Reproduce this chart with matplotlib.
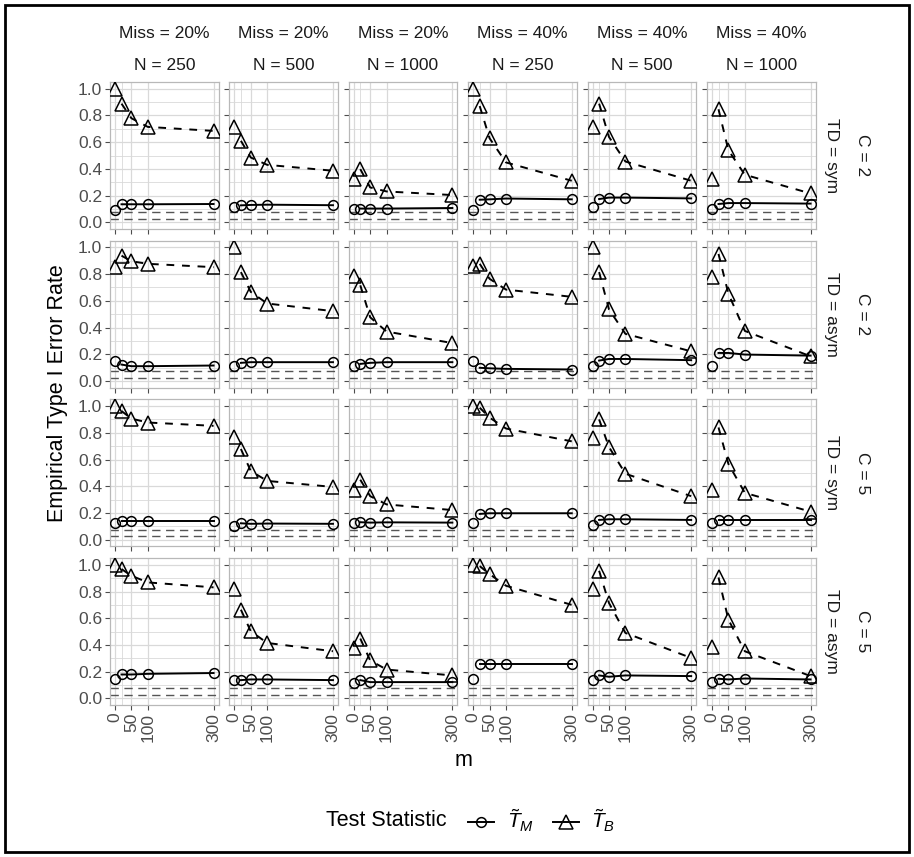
# -----------------------------
#   IMPORTS
# -----------------------------
import matplotlib
matplotlib.use("Agg")
import matplotlib.pyplot as plt
from matplotlib.lines import Line2D
from matplotlib.patches import Rectangle

plt.rcParams["font.family"] = ["Liberation Sans", "DejaVu Sans"]
plt.rcParams["mathtext.fontset"] = "custom"
plt.rcParams["mathtext.rm"] = "Liberation Sans"
plt.rcParams["mathtext.it"] = "Liberation Sans:italic"

# -----------------------------
#   DATA
# -----------------------------
miss_labels = ["20%", "20%", "20%", "40%", "40%", "40%"]
n_labels = ["250", "500", "1000", "250", "500", "1000"]
c_labels = ["2", "2", "5", "5"]
td_labels = ["sym", "asym", "sym", "asym"]
m_values = [0, 20, 50, 100, 300]
m_ticks = [0, 50, 100, 300]
y_ticks = [0.0, 0.2, 0.4, 0.6, 0.8, 1.0]
bradley_bounds = [0.025, 0.075]

# rows = (C, TD), columns = (Miss, N), values over m
tm_rates = [
    [[0.095, 0.135, 0.135, 0.135, 0.137],
     [0.112, 0.127, 0.130, 0.132, 0.128],
     [0.103, 0.103, 0.103, 0.103, 0.107],
     [0.095, 0.169, 0.172, 0.178, 0.172],
     [0.112, 0.174, 0.185, 0.185, 0.179],
     [0.100, 0.137, 0.144, 0.144, 0.140]],
    [[0.153, 0.123, 0.111, 0.111, 0.116],
     [0.111, 0.136, 0.141, 0.141, 0.141],
     [0.116, 0.128, 0.136, 0.141, 0.141],
     [0.153, 0.099, 0.095, 0.091, 0.086],
     [0.116, 0.153, 0.165, 0.165, 0.156],
     [0.116, 0.210, 0.210, 0.198, 0.190]],
    [[0.128, 0.143, 0.143, 0.143, 0.143],
     [0.104, 0.123, 0.119, 0.121, 0.119],
     [0.123, 0.131, 0.128, 0.130, 0.128],
     [0.128, 0.193, 0.198, 0.198, 0.198],
     [0.111, 0.148, 0.153, 0.153, 0.148],
     [0.123, 0.148, 0.148, 0.148, 0.148]],
    [[0.142, 0.179, 0.179, 0.184, 0.190],
     [0.137, 0.137, 0.142, 0.142, 0.137],
     [0.117, 0.137, 0.122, 0.122, 0.122],
     [0.142, 0.261, 0.261, 0.261, 0.261],
     [0.137, 0.172, 0.162, 0.172, 0.167],
     [0.122, 0.147, 0.142, 0.149, 0.142]],
]

tb_rates = [
    [[1.000, 0.888, 0.779, 0.714, 0.684],
     [0.714, 0.610, 0.485, 0.430, 0.386],
     [0.323, 0.398, 0.261, 0.231, 0.204],
     [1.000, 0.870, 0.629, 0.448, 0.311],
     [0.714, 0.888, 0.639, 0.455, 0.311],
     [0.323, 0.846, 0.540, 0.356, 0.216]],
    [[0.852, 0.938, 0.896, 0.877, 0.852],
     [1.000, 0.815, 0.667, 0.580, 0.523],
     [0.783, 0.716, 0.477, 0.370, 0.284],
     [0.857, 0.877, 0.765, 0.684, 0.630],
     [1.000, 0.815, 0.536, 0.353, 0.222],
     [0.778, 0.951, 0.654, 0.375, 0.185]],
    [[1.000, 0.963, 0.906, 0.877, 0.852],
     [0.770, 0.679, 0.514, 0.440, 0.395],
     [0.370, 0.449, 0.326, 0.264, 0.222],
     [1.000, 0.988, 0.914, 0.832, 0.736],
     [0.760, 0.900, 0.694, 0.494, 0.326],
     [0.370, 0.840, 0.568, 0.351, 0.210]],
    [[1.000, 0.968, 0.918, 0.868, 0.831],
     [0.818, 0.664, 0.502, 0.415, 0.353],
     [0.378, 0.448, 0.284, 0.216, 0.172],
     [1.000, 0.990, 0.930, 0.843, 0.700],
     [0.818, 0.955, 0.714, 0.490, 0.303],
     [0.383, 0.905, 0.590, 0.353, 0.167]],
]

# -----------------------------
#   LAYOUT (pixels)
# -----------------------------
W, H = 914, 857
left0, col_step, panel_w = 110, 119.4, 108.5
top0, row_step, panel_h = 82, 158.7, 147
grid_col = "#d9d9d9"
frame_col = "#b8b8b8"
tick_col = "#4d4d4d"


def px_rect(left, top, w, h):
    # Convert a pixel box (top-left origin) into figure fractions
    return [left / W, (H - top - h) / H, w / W, h / H]


fig = plt.figure(figsize=(W / 100, H / 100), dpi=100)

for r in range(len(c_labels)):
    for c in range(len(n_labels)):
        ax = fig.add_axes(px_rect(left0 + c * col_step, top0 + r * row_step, panel_w, panel_h))
        ax.set_xlim(-15, 315)
        ax.set_ylim(-0.05, 1.05)
        ax.set_xticks(m_ticks)
        ax.set_xticks([m for m in m_values if m not in m_ticks], minor=True)
        ax.set_yticks(y_ticks)
        ax.set_yticks([v + 0.1 for v in y_ticks[:-1]], minor=True)
        ax.grid(True, which="major", color=grid_col, lw=0.9)
        ax.grid(True, which="minor", color=grid_col, lw=0.6)
        ax.set_axisbelow(True)
        for s in ax.spines.values():
            s.set_color(frame_col)
            s.set_linewidth(0.9)
        ax.tick_params(which="major", length=3.5, color=tick_col, width=0.8,
                       labelsize=12.5, labelcolor=tick_col, pad=2)
        ax.tick_params(which="minor", length=0)

        # reference band lines
        for b in bradley_bounds:
            ax.axhline(b, color="#555555", lw=1.0, ls=(0, (6, 4)), zorder=1)

        tm = tm_rates[r][c]
        tb = tb_rates[r][c]
        ax.plot(m_values[1:], tm[1:], color="black", lw=1.4, zorder=2)
        ax.plot(m_values[1:], tb[1:], color="black", lw=1.4, ls=(0, (4, 4)), zorder=2)
        ax.plot(m_values, tm, ls="none", marker="o", ms=7, mfc="none",
                mec="black", mew=1.1, zorder=3)
        ax.plot(m_values, tb, ls="none", marker="^", ms=9.5, mfc="none",
                mec="black", mew=1.1, zorder=3)

        if c == 0:
            ax.set_yticklabels(["%.1f" % v for v in y_ticks])
        else:
            ax.set_yticklabels([])
        if r == len(c_labels) - 1:
            ax.set_xticklabels([str(m) for m in m_ticks], rotation=90, va="top")
        else:
            ax.set_xticklabels([])

# Strip labels
for c in range(len(n_labels)):
    xc = (left0 + c * col_step + panel_w / 2) / W
    fig.text(xc, 1 - 33 / H, "Miss = " + miss_labels[c], ha="center", va="center", fontsize=12.5, color="#1a1a1a")
    fig.text(xc, 1 - 66 / H, "N = " + n_labels[c], ha="center", va="center", fontsize=12.5, color="#1a1a1a")
for r in range(len(c_labels)):
    yc = 1 - (top0 + r * row_step + panel_h / 2) / H
    fig.text(832 / W, yc, "TD = " + td_labels[r], ha="center", va="center", rotation=270, fontsize=12.5, color="#1a1a1a")
    fig.text(863 / W, yc, "C = " + c_labels[r], ha="center", va="center", rotation=270, fontsize=12.5, color="#1a1a1a")

# Axis titles
fig.text(57 / W, 1 - 393 / H, "Empirical Type I Error Rate", rotation=90, ha="center", va="center", fontsize=15.5)
fig.text(463 / W, 1 - 760 / H, "m", ha="center", va="center", fontsize=15.5)

# Legend
fig.text(447 / W, 1 - 821 / H, "Test Statistic", ha="right", va="center", fontsize=15.5)
handles = [
    Line2D([], [], color="black", lw=1.4, marker="o", ms=7, mfc="none", mew=1.1),
    Line2D([], [], color="black", lw=1.4, marker="^", ms=9.5, mfc="none", mew=1.1),
]
fig.legend(handles, [r"$\tilde{T}_M$", r"$\tilde{T}_B$"], ncol=2, frameon=False,
           loc="center left", bbox_to_anchor=(460 / W, 1 - 821 / H), fontsize=15,
           handlelength=1.25, handletextpad=0.6, columnspacing=0.9, borderaxespad=0)

# Outer frame
fig.patches.append(Rectangle((0.006, 0.006), 0.988, 0.988, transform=fig.transFigure,
                             fill=False, ec="black", lw=2))

fig.savefig("out.png", dpi=100)
